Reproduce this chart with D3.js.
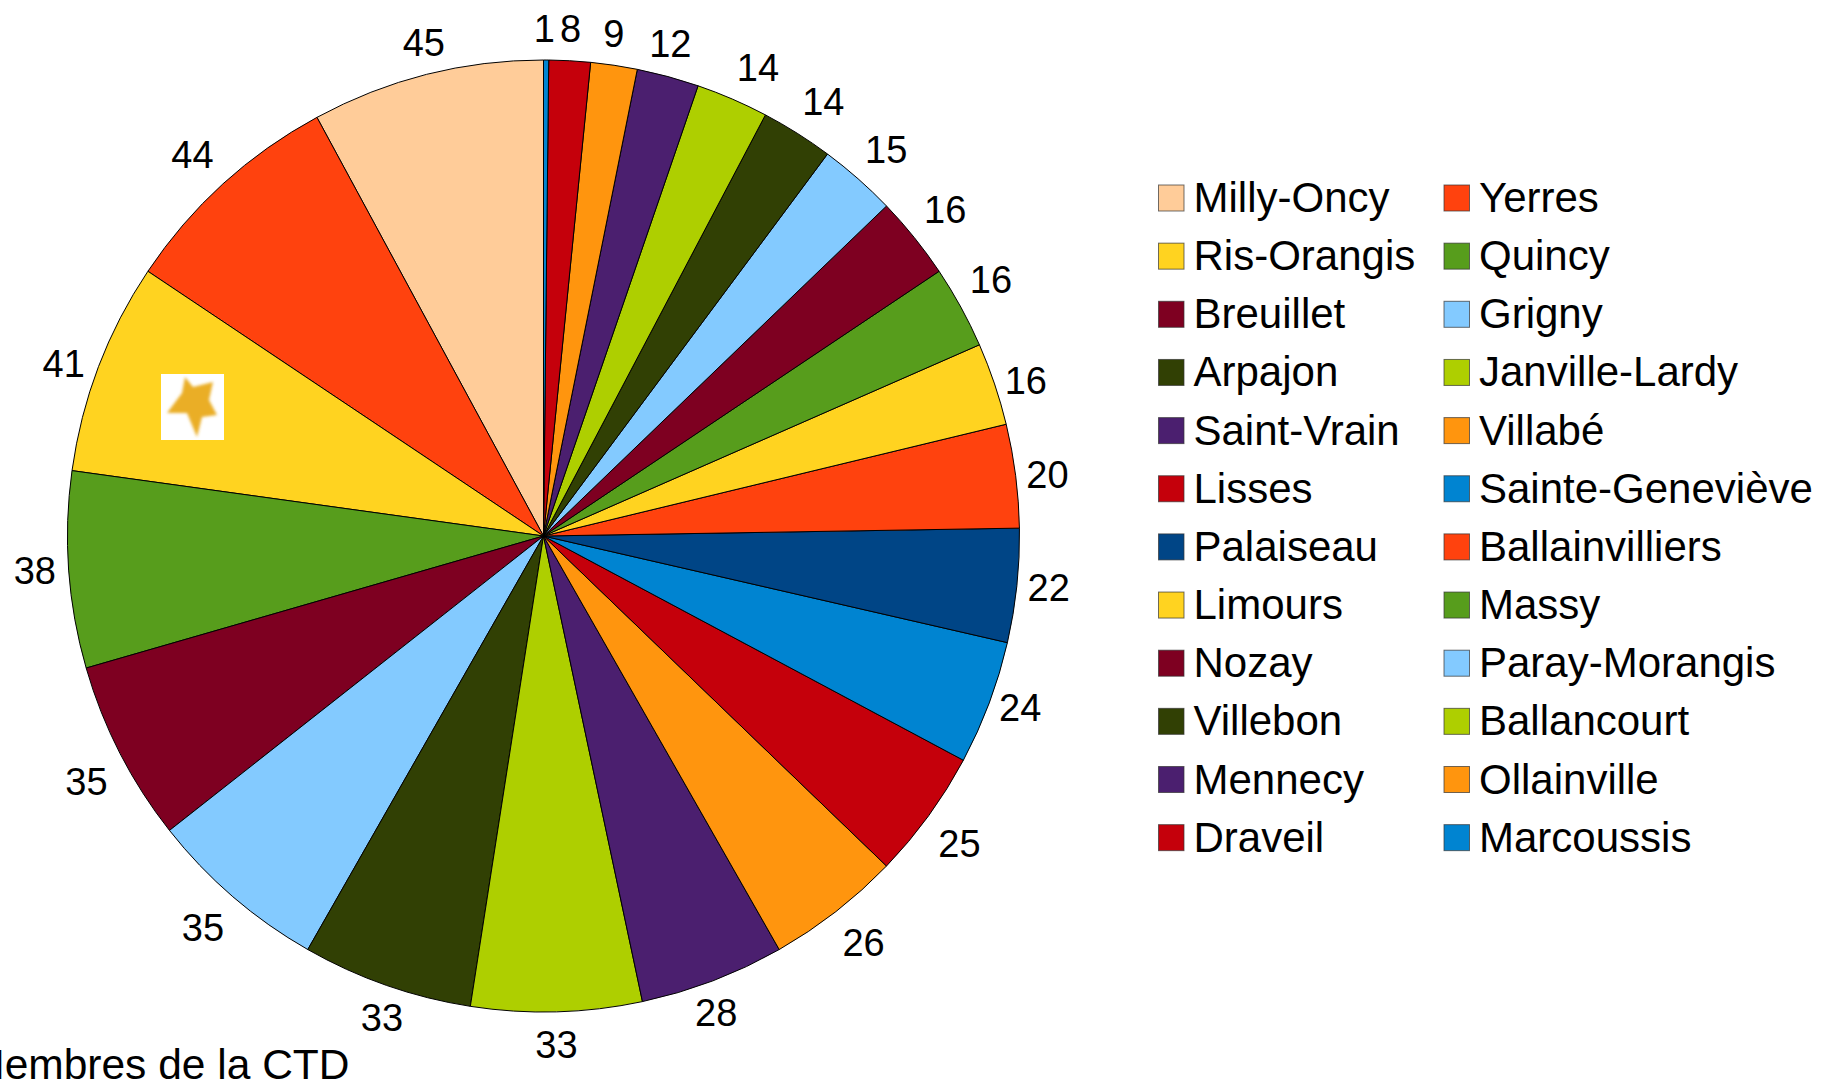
<!DOCTYPE html>
<html>
<head>
<meta charset="utf-8">
<script src="https://cdn.jsdelivr.net/npm/d3@7"></script>
<style>
  html, body { margin: 0; padding: 0; background: #fff; overflow: hidden; }
  text { font-family: "Liberation Sans", Arial, sans-serif; fill: #000; }
</style>
</head>
<body>
<svg id="chart" width="1823" height="1091"></svg>
<script>
// slices in drawing order, running counter-clockwise from 12 o'clock
const towns = ["Milly-Oncy", "Yerres", "Ris-Orangis", "Quincy", "Breuillet", "Grigny",
  "Arpajon", "Janville-Lardy", "Saint-Vrain", "Villabé", "Lisses", "Sainte-Geneviève",
  "Palaiseau", "Ballainvilliers", "Limours", "Massy", "Nozay", "Paray-Morangis",
  "Villebon", "Ballancourt", "Mennecy", "Ollainville", "Draveil", "Marcoussis"];
const members = [45, 44, 41, 38, 35, 35, 33, 33, 28, 26, 25, 24, 22, 20, 16, 16, 16, 15, 14, 14, 12, 9, 8, 1];
const colours = ["#FFCC99", "#FF420E", "#FFD320", "#579D1C", "#7E0021", "#83CAFF",
  "#314004", "#AECF00", "#4B1F6F", "#FF950E", "#C5000B", "#0084D1",
  "#004586", "#FF420E", "#FFD320", "#579D1C", "#7E0021", "#83CAFF",
  "#314004", "#AECF00", "#4B1F6F", "#FF950E", "#C5000B", "#0084D1"];
const chartTitle = "Membres de la CTD";

// the original labels don't sit exactly on one radius, small nudges per slice
const labelNudge = [[5, -1], [-9, -6], [-5, 8], [-2, -2], [-5, 13], [-9, 6],
  [6, 2], [-1, 1], [-8, 2], [8, 5], [5, 9], [1, -7],
  [0, -2], [0, 3], [1, 7], [2, -12], [6, -8], [7, -5],
  [9, -5], [13, -2], [-6, -2], [-5, 0], [-1, 0], [-2, 0]];

const svg = d3.select("#chart");
const cx = 543.5, cy = 536, radius = 476, labelRadius = 508;

const pie = d3.pie().value(d => d).sort(null).startAngle(0).endAngle(-2 * Math.PI);
const arcs = pie(members);
const arc = d3.arc().innerRadius(0).outerRadius(radius);
const labelArc = d3.arc().innerRadius(labelRadius).outerRadius(labelRadius);

const pieGroup = svg.append("g").attr("transform", `translate(${cx},${cy})`);

pieGroup.selectAll("path")
  .data(arcs)
  .enter()
  .append("path")
  .attr("d", arc)
  .attr("fill", (d, i) => colours[i])
  .attr("stroke", "#000")
  .attr("stroke-width", 1);

pieGroup.selectAll("text")
  .data(arcs)
  .enter()
  .append("text")
  .attr("transform", (d, i) => {
    const [x, y] = labelArc.centroid(d);
    return `translate(${x + labelNudge[i][0]},${y + labelNudge[i][1]})`;
  })
  .attr("text-anchor", "middle")
  .attr("dy", "0.36em")
  .attr("font-size", 38)
  .text(d => d.data);

// star picture pasted on the Ris-Orangis slice
const defs = svg.append("defs");
defs.append("filter").attr("id", "soft")
  .append("feGaussianBlur").attr("stdDeviation", 1.8);
const star = svg.append("g").attr("transform", "translate(161,374)");
star.append("rect").attr("width", 63).attr("height", 66).attr("fill", "#fff");
star.append("path")
  .attr("d", "M24,3 L32,13 L52,8 L48,26 L56,41 L41,43 L36,63 L26,39 L6,39 L21,19 Z")
  .attr("fill", "#EAAE28")
  .attr("filter", "url(#soft)");

// legend, two columns of twelve
const legendCols = [1158, 1443.5];
const legendTop = 198, legendStep = 58.15;

const legend = svg.append("g").selectAll("g")
  .data(towns)
  .enter()
  .append("g")
  .attr("transform", (d, i) => `translate(${legendCols[i % 2]},${legendTop + Math.floor(i / 2) * legendStep})`);

legend.append("rect")
  .attr("x", 0.5)
  .attr("y", -13)
  .attr("width", 25.5)
  .attr("height", 26)
  .attr("fill", (d, i) => colours[i])
  .attr("stroke", "#333")
  .attr("stroke-opacity", 0.7)
  .attr("stroke-width", 1);

legend.append("text")
  .attr("x", 35.5)
  .attr("y", 14)
  .attr("font-size", 42)
  .text(d => d);

// runs off the left edge in the original too
svg.append("text")
  .attr("x", 349.5)
  .attr("y", 1079)
  .attr("text-anchor", "end")
  .attr("font-size", 42.5)
  .text(chartTitle);
</script>
</body>
</html>
